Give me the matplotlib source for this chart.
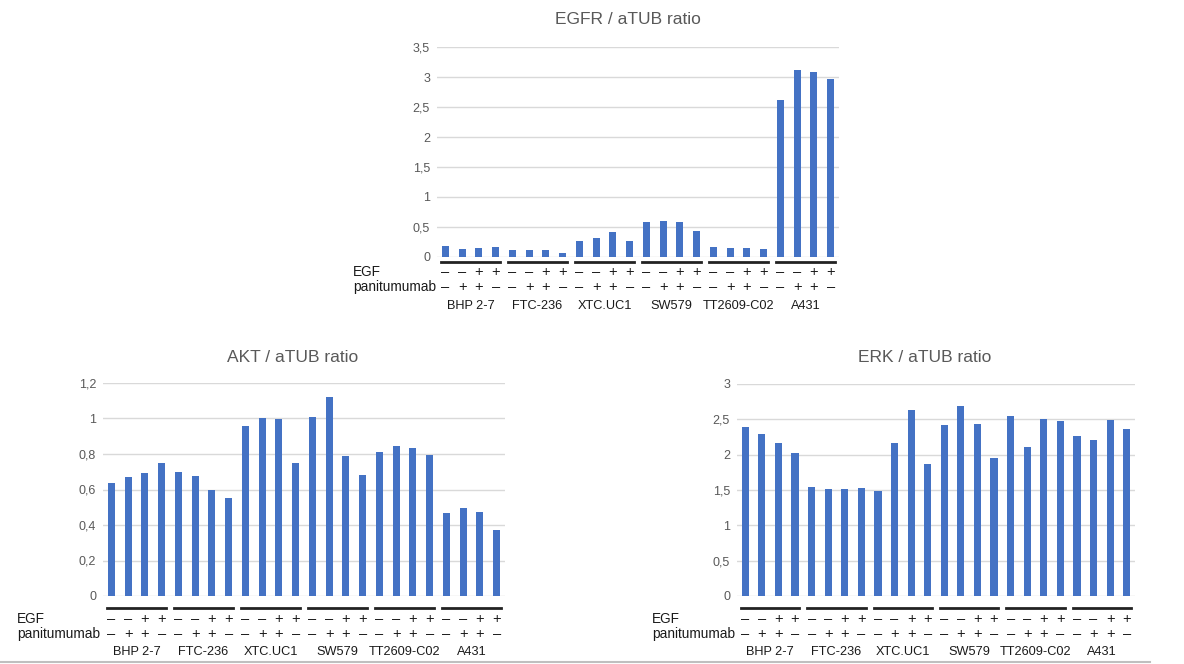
import numpy as np
import matplotlib
matplotlib.use('Agg')
import matplotlib.pyplot as plt
from matplotlib import transforms
from matplotlib.lines import Line2D
from matplotlib.ticker import FuncFormatter, MultipleLocator

plt.rcParams['font.family'] = ['Liberation Sans', 'DejaVu Sans']

cell_lines = ['BHP 2-7', 'FTC-236', 'XTC.UC1', 'SW579', 'TT2609-C02', 'A431']
egf = ['\u2013', '\u2013', '+', '+']
panitumumab = ['\u2013', '+', '+', '\u2013']

egfr = [0.18, 0.13, 0.15, 0.17,
        0.11, 0.11, 0.11, 0.06,
        0.26, 0.32, 0.42, 0.26,
        0.58, 0.60, 0.59, 0.44,
        0.17, 0.15, 0.15, 0.13,
        2.61, 3.12, 3.08, 2.96]

akt = [0.635, 0.67, 0.695, 0.75,
       0.70, 0.675, 0.595, 0.552,
       0.959, 1.004, 0.998, 0.751,
       1.009, 1.12, 0.79, 0.68,
       0.81, 0.844, 0.836, 0.797,
       0.467, 0.493, 0.475, 0.371]

erk = [2.385, 2.286, 2.16, 2.03,
       1.545, 1.51, 1.51, 1.53,
       1.49, 2.16, 2.63, 1.87,
       2.42, 2.69, 2.44, 1.95,
       2.55, 2.11, 2.50, 2.48,
       2.26, 2.21, 2.49, 2.37]

W, H = 1184, 664
BLUE = '#4472C4'
GRAY = '#595959'
DARK = '#1a1a1a'


def comma(v, pos):
    return ('%g' % round(v, 2)).replace('.', ',')


def panel(rect, vals, ymax, step, title, title_x, title_y, lab_x, rows_y):
    # rect in pixels: left, top, right, bottom
    l, t, r, b = rect
    ax = fig.add_axes([l / W, 1 - b / H, (r - l) / W, (b - t) / H])
    x = np.arange(len(vals))
    ax.bar(x, vals, width=0.43, color=BLUE, zorder=3)
    ax.set_xlim(-0.5, len(vals) - 0.5)
    ax.set_ylim(0, ymax)
    ax.yaxis.set_major_locator(MultipleLocator(step))
    ax.yaxis.set_major_formatter(FuncFormatter(comma))
    ax.grid(axis='y', color='#D9D9D9', lw=1, zorder=0)
    for s in ax.spines.values():
        s.set_visible(False)
    ax.set_xticks([])
    ax.tick_params(axis='y', length=0, pad=5, labelsize=9, labelcolor=GRAY)
    fig.text(title_x / W, 1 - title_y / H, title, ha='center', va='center',
             fontsize=12.5, color=GRAY)

    tr = transforms.blended_transform_factory(ax.transData, fig.transFigure)
    line_y, egf_y, pan_y, name_y = [1 - v / H for v in rows_y]
    for g, name in enumerate(cell_lines):
        x0 = g * 4
        fig.add_artist(Line2D([x0 - 0.25, x0 + 3.25], [line_y, line_y],
                              transform=tr, color='#222222', lw=2))
        for k in range(4):
            fig.text(x0 + k, egf_y, egf[k], transform=tr, ha='center', va='center',
                     fontsize=10.5, color=DARK)
            fig.text(x0 + k, pan_y, panitumumab[k], transform=tr, ha='center',
                     va='center', fontsize=10.5, color=DARK)
        fig.text(x0 + 1.5, name_y, name, transform=tr, ha='center', va='center',
                 fontsize=9.2, color=DARK)
    fig.text(lab_x / W, egf_y, 'EGF', ha='left', va='center', fontsize=9.8,
             color=DARK)
    fig.text(lab_x / W, pan_y, 'panitumumab', ha='left', va='center',
             fontsize=9.8, color=DARK)
    return ax


fig = plt.figure(figsize=(W / 100, H / 100), dpi=100)

panel((437, 47, 839, 257), egfr, 3.5, 0.5, 'EGFR / aTUB ratio', 628, 20, 353,
      (262, 272, 287, 306))
panel((103, 383, 505, 596), akt, 1.2, 0.2, 'AKT / aTUB ratio', 293, 358, 17,
      (608, 619, 634, 652))
panel((737, 384, 1135, 596), erk, 3, 0.5, 'ERK / aTUB ratio', 925, 358, 652,
      (608, 619, 634, 652))

fig.add_artist(Line2D([0, 1150 / W], [1 - 662 / H, 1 - 662 / H],
                      transform=fig.transFigure, color='#BFBFBF', lw=1.5))

fig.savefig('out.png', dpi=100)
